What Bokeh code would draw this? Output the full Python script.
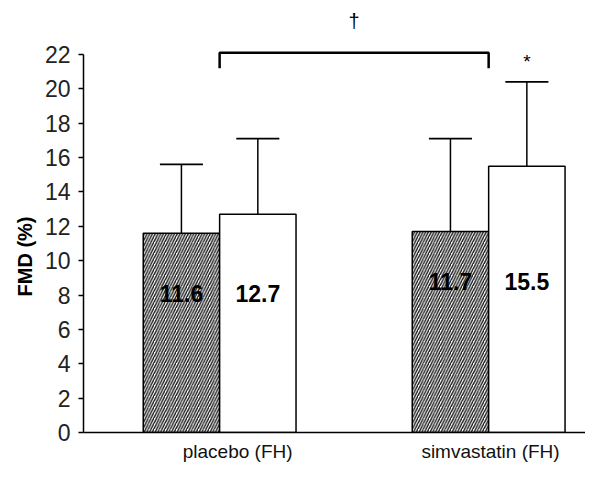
from bokeh.plotting import figure
from bokeh.models import Range1d, FixedTicker, Title
from bokeh.embed import file_html
from bokeh.resources import INLINE
from bokeh.core.properties import value

# ---- data ----
groups = ["placebo (FH)", "simvastatin (FH)"]
hatched_means = [11.6, 11.7]
white_means = [12.7, 15.5]
hatched_upper = [15.6, 17.1]
white_upper = [17.1, 20.4]
hatched_labels = ["11.6", "11.7"]
white_labels = ["12.7", "15.5"]
y_ticks = [0, 2, 4, 6, 8, 10, 12, 14, 16, 18, 20, 22]
y_axis_title = "FMD (%)"
bracket_symbol = "\u2020"
star_symbol = "*"

# ---- layout constants ----
FONT = "Liberation Sans"
group_pos = [1.0, 2.0]
bar_w = 0.284
cap_half = 0.08
label_y = [8.1, 8.8]
x_tick_pos = [1.067, 2.007]
bracket_level = 22.1
bracket_drop = 0.9

p = figure(width=585, height=464, output_backend="svg", toolbar_location=None,
           x_range=Range1d(0.494, 2.360), y_range=Range1d(0, 25.14),
           min_border_left=83, min_border_right=0, min_border_top=0,
           min_border_bottom=32)
p.outline_line_color = None
p.xgrid.visible = False
p.ygrid.visible = False
p.background_fill_color = "white"

hx = [g - bar_w / 2 for g in group_pos]
wx = [g + bar_w / 2 for g in group_pos]

# error bars
for xs, means, ups in ((hx, hatched_means, hatched_upper), (wx, white_means, white_upper)):
    p.segment(x0=xs, y0=means, x1=xs, y1=ups, line_color="black", line_width=1.5)
    p.segment(x0=[x - cap_half for x in xs], y0=ups, x1=[x + cap_half for x in xs], y1=ups,
              line_color="black", line_width=1.8)

# bars
p.vbar(x=hx, top=hatched_means, bottom=0, width=bar_w, fill_color="white",
       line_color="black", line_width=1.5, hatch_pattern="/", hatch_scale=5.5,
       hatch_weight=1.4, hatch_color="#1a1a1a")
p.vbar(x=wx, top=white_means, bottom=0, width=bar_w, fill_color="white",
       line_color="black", line_width=1.5)

# value labels
p.text(x=hx, y=label_y, text=hatched_labels, text_font=value(FONT), text_font_style="bold",
       text_font_size="23px", text_align="center", text_baseline="middle", text_color="black")
p.text(x=wx, y=label_y, text=white_labels, text_font=value(FONT), text_font_style="bold",
       text_font_size="23px", text_align="center", text_baseline="middle", text_color="black")

# significance bracket
p.line(x=[group_pos[0], group_pos[0], group_pos[1], group_pos[1]],
       y=[bracket_level - bracket_drop, bracket_level, bracket_level, bracket_level - bracket_drop],
       line_color="black", line_width=2.5)
p.text(x=[(group_pos[0] + group_pos[1]) / 2], y=[bracket_level + 1.85], text=[bracket_symbol],
       text_font=value(FONT), text_font_size="20px", text_align="center",
       text_baseline="middle", text_color="black")
p.text(x=[wx[1]], y=[white_upper[1] + 1.2], text=[star_symbol],
       text_font=value(FONT), text_font_size="19px", text_align="center",
       text_baseline="middle", text_color="black")

# y axis
ya = p.yaxis[0]
ya.ticker = FixedTicker(ticks=y_ticks)
ya.bounds = (0, 22)
ya.axis_line_color = "black"
ya.axis_line_width = 1.5
ya.major_tick_out = 5
ya.major_tick_in = 0
ya.major_tick_line_width = 1.5
ya.minor_tick_line_color = None
ya.major_label_text_font = FONT
ya.major_label_text_font_size = "23px"
ya.major_label_text_color = "#222222"
ya.major_label_standoff = 8

p.add_layout(Title(text=y_axis_title, align="left", offset=136, text_font=FONT,
                   text_font_style="bold", text_font_size="20px", text_color="black",
                   standoff=12), "left")

# x axis
xa = p.xaxis[0]
xa.ticker = FixedTicker(ticks=x_tick_pos)
xa.major_label_overrides = {x_tick_pos[i]: groups[i] for i in range(len(groups))}
xa.axis_line_color = "black"
xa.axis_line_width = 1.5
xa.major_tick_out = 0
xa.major_tick_in = 0
xa.major_tick_line_color = None
xa.minor_tick_line_color = None
xa.major_label_text_font = FONT
xa.major_label_text_font_size = "19px"
xa.major_label_text_color = "#111111"
xa.major_label_standoff = 8

open("out.html", "w").write(file_html(p, INLINE))
